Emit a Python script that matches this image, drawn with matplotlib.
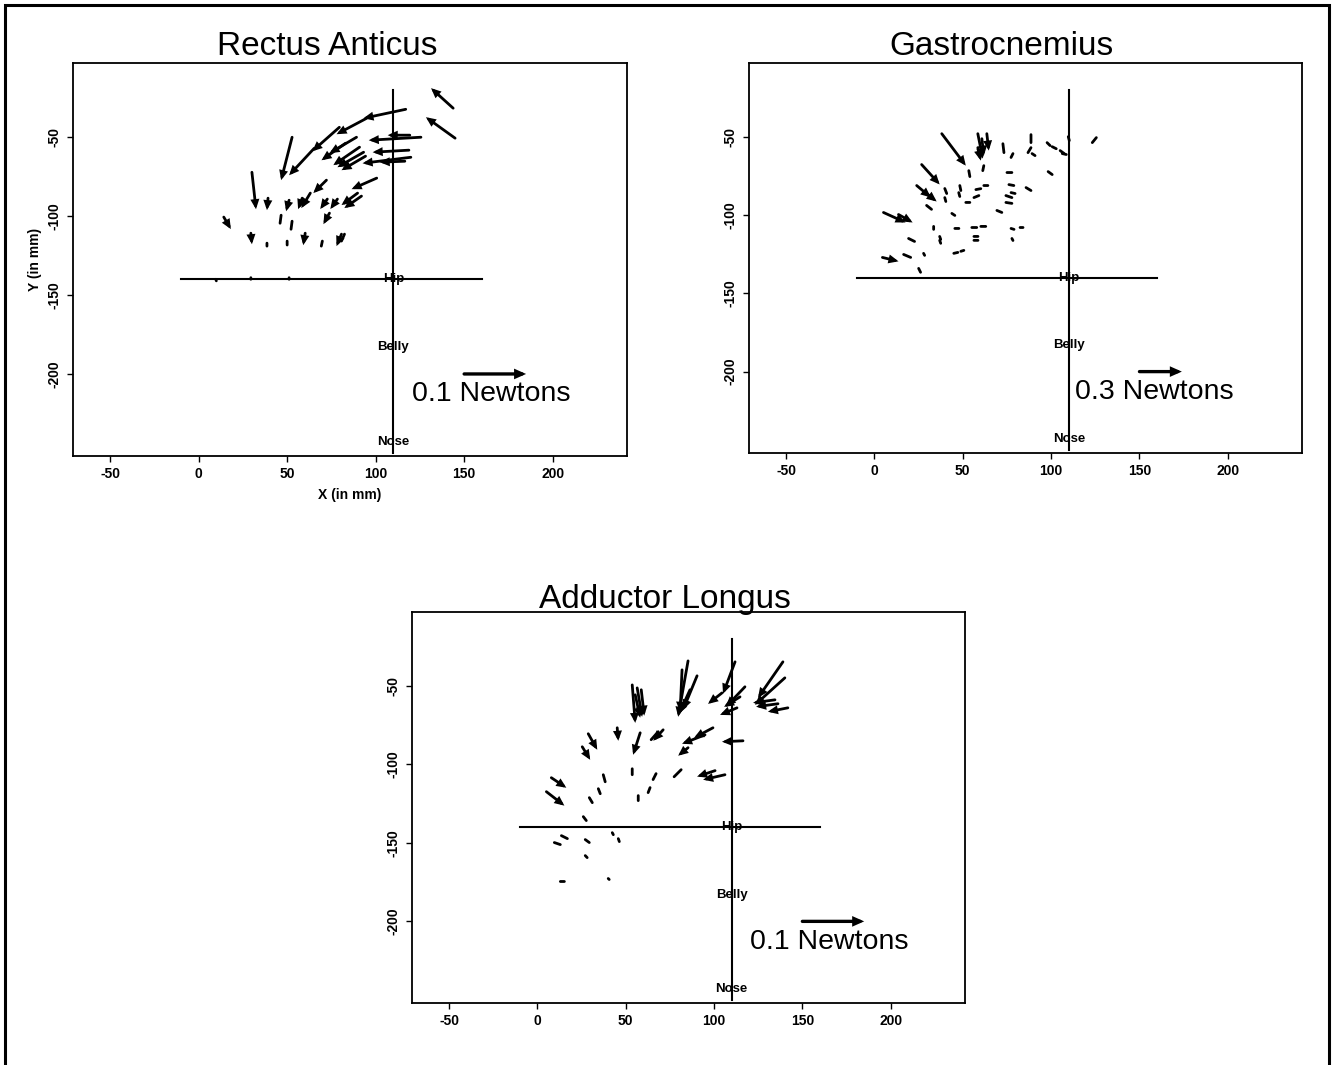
import numpy as np
import matplotlib
matplotlib.use("Agg")
import matplotlib.pyplot as plt
from matplotlib.patches import Rectangle, FancyArrowPatch

plt.rcParams['font.family'] = ['Liberation Sans', 'DejaVu Sans']

# Force vectors at each probe site: tail (x, y) in mm, arrow (u, v) in mm
ra_x = [143.8, 144.9, 117.0, 94.9, 79.5, 65.3, 52.8, 125.6, 119.3, 118.8, 119.9, 116.5,
        89.2, 90.9, 93.2, 94.3, 83.0, 100.6, 92.0, 89.8, 72.2, 58.5, 30.1, 39.2, 51.1,
        63.1, 72.7, 78.4, 14.2, 46.6, 52.8, 73.9, 29.5, 38.6, 50.0, 60.2, 69.9, 80.7,
        82.4, 9.7, 29.5, 51.1]
ra_y = [-31.6, -50.6, -32.3, -38.0, -43.7, -57.0, -50.0, -50.0, -48.7, -58.2, -62.7, -65.2,
        -50.0, -56.3, -59.5, -62.0, -53.8, -75.9, -87.3, -85.4, -77.2, -88.6, -72.2, -88.6,
        -89.9, -85.4, -89.2, -89.2, -100.6, -99.4, -103.2, -98.1, -110.8, -117.1, -115.8,
        -110.8, -115.8, -111.4, -111.4, -140.0, -140.0, -140.0]
ra_u = [-12.5, -16.5, -23.9, -17.0, -15.3, -14.2, -6.2, -29.5, -12.5, -20.5, -27.3, -14.2,
        -15.3, -14.8, -14.8, -13.6, -13.6, -14.2, -9.7, -9.1, -7.4, -2.3, 2.3, -0.6, -1.7,
        -5.1, -4.0, -4.0, 4.0, -0.6, -0.6, -3.4, 0.6, 0.0, 0.0, -1.1, -0.6, -2.8,
        -1.7, 0.3, 0.0, 0.0]
ra_v = [12.7, 13.3, -5.7, -10.1, -15.2, -17.1, -27.2, -1.9, 0.0, -1.3, -3.8, -0.6,
        -10.1, -11.4, -9.5, -8.9, -10.8, -7.0, -7.6, -7.6, -8.2, -7.0, -23.4, -7.6, -7.0,
        -9.5, -6.3, -6.3, -7.6, -5.1, -5.1, -7.0, -7.0, -1.9, -2.5, -7.6, -3.2, -7.6,
        -4.4, -1.0, 1.0, 1.0]

gas_x = [38.1, 58.5, 63.6, 58.5, 60.8, 26.7, 23.9, 29.5, 5.1, 13.6, 4.5, 19.3, 16.5, 25.0,
         72.7, 78.4, 88.6, 86.9, 89.2, 97.7, 100.6, 105.1, 106.3, 109.7, 125.6, 75.0, 98.3,
         53.4, 61.9, 57.4, 61.9, 76.1, 77.3, 85.8, 74.4, 74.4, 56.3, 51.7, 69.3, 43.8, 48.3,
         47.7, 39.8, 39.8, 29.5, 33.5, 45.5, 55.1, 60.2, 77.3, 82.4, 56.3, 56.3, 36.9, 36.9,
         44.9, 48.9, 77.8, 27.8]
gas_y = [-48.1, -48.1, -48.1, -57.0, -51.3, -67.8, -81.2, -86.3, -98.4, -99.7, -127.1,
         -115.0, -125.2, -134.1, -54.5, -60.8, -48.7, -60.2, -60.8, -53.8, -56.4, -58.9,
         -60.8, -50.0, -50.6, -72.9, -72.3, -71.7, -68.5, -83.8, -81.2, -80.6, -85.7, -82.5,
         -87.6, -92.0, -88.9, -92.0, -97.1, -99.0, -81.2, -85.7, -83.1, -88.9, -93.9, -107.3,
         -108.6, -108.0, -107.3, -108.6, -108.0, -113.7, -116.2, -113.7, -116.2, -124.5,
         -123.2, -115.0, -124.5]
gas_u = [13.6, 2.8, 1.1, 1.7, 1.1, 10.2, 8.0, 5.7, 12.5, 8.0, 9.1, 3.4, 4.0, 1.1,
         0.6, -1.1, 0.0, 1.7, 1.7, 1.7, 2.3, 2.3, 2.3, 0.6, -2.3, 2.8, 2.3,
         0.6, -0.6, 2.8, 2.3, 2.8, 2.3, 2.8, 3.4, 3.4, 2.8, 2.3, 2.8, 1.7, 0.6,
         0.6, 1.1, 0.6, 2.8, 0.0, 2.3, 2.8, 2.8, 1.7, 1.7, 2.3, 2.3, 0.6, 0.6,
         2.3, 1.7, 0.6, 0.6]
gas_v = [-20.4, -15.9, -10.8, -8.3, -10.8, -12.7, -7.6, -5.1, -6.4, -5.1, -2.5, -1.9,
         -1.9, -2.5, -5.7, -2.5, -5.1, 3.2, -1.3, -1.9, -1.3, -1.9, -0.6, -2.5, -3.2, 0.0,
         -1.9, -3.8, -3.2, 0.6, 0.0, -0.6, -0.6, -1.9, -1.3, -0.6, 1.3, 0.0, -1.3, -1.3,
         -3.2, -2.5, -3.2, -2.5, -2.5, -1.9, 0.0, 0.0, 0.0, -0.6, 0.0, 0.0, 0.0, -1.9,
         -1.9, 0.6, 0.6, -1.3, -1.3]

add_x = [85.3, 81.9, 90.4, 86.4, 111.9, 104.5, 117.5, 114.7, 113.0, 139.0, 140.1, 134.5,
         136.2, 141.8, 53.7, 56.5, 58.8, 55.4, 45.2, 28.8, 25.4, 58.2, 71.2, 68.4, 99.4,
         94.9, 85.3, 116.4, 7.9, 5.1, 37.3, 34.5, 29.4, 53.7, 67.2, 63.8, 57.1, 81.4,
         100.6, 106.2, 26.0, 13.6, 9.6, 27.1, 42.4, 45.8, 27.1, 13.0, 40.1]
add_y = [-34.1, -39.8, -43.6, -52.5, -34.7, -54.5, -50.6, -57.0, -64.0, -34.7, -44.9, -58.9,
         -61.4, -64.0, -49.4, -51.3, -52.5, -55.7, -76.7, -80.5, -88.8, -79.9, -78.0, -79.2,
         -76.7, -81.2, -89.4, -85.0, -108.5, -117.4, -106.6, -115.5, -121.2, -102.8, -105.9,
         -114.8, -119.9, -103.4, -104.0, -106.6, -133.3, -145.4, -149.8, -147.9, -143.5,
         -147.3, -158.1, -174.6, -172.7]
add_u = [-5.6, -1.1, -7.9, -6.2, -6.8, -7.9, -10.7, -9.0, -9.6, -14.1, -16.9, -12.4,
         -12.4, -11.3, 1.7, 2.8, 1.7, 2.8, 0.6, 5.1, 4.5, -4.0, -5.6, -4.0, -10.7,
         -13.0, -5.6, -11.9, 8.5, 10.2, 1.1, 1.1, 1.7, 0.0, -1.7, -1.1, 0.0, -4.0,
         -10.2, -12.4, 1.7, 3.4, 3.4, 2.3, 0.6, 0.6, 1.1, 2.3, 0.3]
add_v = [-35.6, -26.7, -21.6, -15.3, -20.3, -7.0, -12.7, -6.4, -4.5, -22.9, -17.2, -1.9,
         -1.9, -2.5, -24.2, -18.4, -16.5, -14.6, -8.3, -10.2, -8.3, -14.0, -7.0, -5.1, -6.4,
         -5.7, -5.1, -0.6, -6.4, -8.9, -4.5, -3.2, -3.2, -3.8, -3.8, -3.2, -3.2, -4.5,
         -3.8, -3.2, -2.5, -1.9, -1.3, -1.9, -1.3, -1.9, -1.3, 0.0, -0.3]

titles = ["Rectus Anticus", "Gastrocnemius", "Adductor Longus"]
key_force = [0.1, 0.3, 0.1]          # Newtons shown by the key arrow
mm_per_newton = [350, 80, 350]       # drawing scale of each panel
key_text_x = [120.5, 113.5, 120.5]

x_ticks = [-50, 0, 50, 100, 150, 200]
y_ticks = [-50, -100, -150, -200]

# body landmarks (mm)
hip_line_x = [-10, 160]
hip_y = -140
mid_x = 110
mid_line_y = [-20, -250]
landmarks = ["Hip", "Belly", "Nose"]
landmark_y = [-140, -183, -243]


def draw_vector(ax, x0, y0, dx, dy, lw=2.0, head_len=0.38, head_wid=0.17):
    # short vectors are drawn as plain dashes, longer ones get a head
    p0 = ax.transData.transform((x0, y0))
    p1 = ax.transData.transform((x0 + dx, y0 + dy))
    plen = np.hypot(*(p1 - p0))
    if plen < 1.0:
        p1 = p0 + np.array([1.0, -1.0])
        dx, dy = ax.transData.inverted().transform(p1) - np.array([x0, y0])
    if plen > 11:
        style = f'-|>,head_length={head_len},head_width={head_wid}'
    else:
        style = '-'
    arr = FancyArrowPatch((x0, y0), (x0 + dx, y0 + dy), arrowstyle=style,
                          mutation_scale=10, lw=lw, color='black',
                          shrinkA=0, shrinkB=0, capstyle='round',
                          joinstyle='miter', zorder=3)
    ax.add_patch(arr)


fig = plt.figure(figsize=(13.34, 10.65), dpi=100)

# page frame
fig.patches.append(Rectangle((5 / 1334, -0.05), 1324 / 1334, 1.05 - 5 / 1065,
                             transform=fig.transFigure, fill=False,
                             edgecolor='black', linewidth=2.2))

boxes = [[0.0547, 0.5718, 0.4153, 0.3690],
         [0.5615, 0.5746, 0.4145, 0.3662],
         [0.3088, 0.0582, 0.4145, 0.3671]]
title_pos = [(0.2455, 0.9565), (0.7505, 0.9565), (0.4985, 0.4375)]
fields = [(ra_x, ra_y, ra_u, ra_v), (gas_x, gas_y, gas_u, gas_v),
          (add_x, add_y, add_u, add_v)]

for i, box in enumerate(boxes):
    ax = fig.add_axes(box)
    ax.set_xlim(-71, 242)
    ax.set_ylim(-252, -3)

    ax.plot(hip_line_x, [hip_y, hip_y], color='black', lw=1.5)
    ax.plot([mid_x, mid_x], mid_line_y, color='black', lw=1.5)
    for name, ly in zip(landmarks, landmark_y):
        ax.text(mid_x, ly, name, ha='center', va='center', fontsize=9.5,
                fontweight='bold')

    for x0, y0, dx, dy in zip(*fields[i]):
        draw_vector(ax, x0, y0, dx, dy)

    # key arrow and label
    key_len = key_force[i] * mm_per_newton[i]
    draw_vector(ax, 150, -200, key_len, 0, lw=2.4, head_len=0.45, head_wid=0.2)
    ax.text(key_text_x[i], -213, f"{key_force[i]} Newtons", fontsize=20.5,
            va='center', ha='left')

    ax.set_xticks(x_ticks)
    ax.set_xticklabels([str(t) for t in x_ticks])
    ax.set_yticks(y_ticks)
    ax.set_yticklabels([str(t) for t in y_ticks], rotation=90, va='center')
    ax.tick_params(direction='out', length=4, width=1, labelsize=10, pad=4)
    for lab in ax.get_xticklabels() + ax.get_yticklabels():
        lab.set_fontweight('bold')
    for sp in ax.spines.values():
        sp.set_linewidth(1.3)

    if i == 0:
        ax.set_xlabel("X (in mm)", fontsize=10, fontweight='bold', labelpad=5)
        ax.set_ylabel("Y (in mm)", fontsize=10, fontweight='bold', labelpad=4)

    fig.text(title_pos[i][0], title_pos[i][1], titles[i], ha='center',
             va='center', fontsize=24)

fig.savefig("out.png", dpi=100)
